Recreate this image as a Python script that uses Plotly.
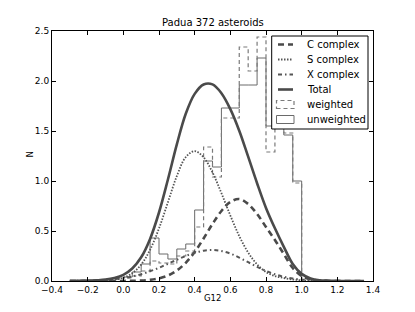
import plotly.graph_objects as go

# ---------------- data ----------------
bin_edges = [0.00, 0.05, 0.10, 0.15, 0.20, 0.25, 0.30, 0.35, 0.40, 0.45, 0.50,
             0.55, 0.60, 0.65, 0.70, 0.75, 0.80, 0.85, 0.90, 0.95, 1.00]
unweighted = [0.04, 0.09, 0.17, 0.43, 0.27, 0.22, 0.32, 0.37, 0.71, 1.20,
              1.14, 1.73, 1.73, 1.96, 1.96, 2.23, 1.55, 1.55, 1.46, 1.00]
weighted = [0.03, 0.05, 0.10, 0.20, 0.18, 0.17, 0.25, 0.30, 0.54, 1.34,
            1.04, 1.63, 1.63, 2.34, 2.10, 2.44, 1.29, 1.55, 1.48, 0.98]

curve_x = [-0.30, -0.25, -0.20, -0.15, -0.10, -0.05, 0.00, 0.05, 0.10, 0.15,
           0.20, 0.25, 0.30, 0.35, 0.40, 0.45, 0.50, 0.55, 0.60, 0.65,
           0.70, 0.75, 0.80, 0.85, 0.90, 0.95, 1.00, 1.05, 1.10, 1.15,
           1.20, 1.25, 1.30, 1.35]
c_complex = [0.0, 0.0, 0.0, 0.0, 0.0, 0.0001, 0.0006, 0.0018, 0.0048, 0.012,
             0.027, 0.055, 0.105, 0.182, 0.29, 0.425, 0.57, 0.70, 0.79, 0.82,
             0.77, 0.67, 0.54, 0.41, 0.27, 0.13, 0.05, 0.016, 0.004, 0.001,
             0.0003, 0.0001, 0.0, 0.0]
s_complex = [0.0, 0.0001, 0.0003, 0.0011, 0.0038, 0.0117, 0.032, 0.077, 0.164, 0.312,
             0.526, 0.788, 1.049, 1.239, 1.299, 1.237, 1.086, 0.878, 0.655, 0.449,
             0.285, 0.166, 0.09, 0.05, 0.03, 0.015, 0.007, 0.003, 0.001, 0.0005,
             0.0002, 0.0001, 0.0, 0.0]
x_complex = [0.0007, 0.0015, 0.003, 0.006, 0.010, 0.018, 0.029, 0.046, 0.068, 0.097,
             0.132, 0.172, 0.212, 0.251, 0.282, 0.303, 0.310, 0.300, 0.274, 0.234,
             0.188, 0.142, 0.101, 0.067, 0.042, 0.025, 0.014, 0.007, 0.0034, 0.0015,
             0.0005, 0.0002, 0.0001, 0.0]
total = [0.0008, 0.0016, 0.0033, 0.0071, 0.0138, 0.030, 0.062, 0.125, 0.237, 0.421,
         0.685, 1.015, 1.366, 1.672, 1.871, 1.965, 1.966, 1.878, 1.719, 1.503,
         1.243, 0.978, 0.731, 0.527, 0.342, 0.170, 0.071, 0.026, 0.008, 0.003,
         0.001, 0.0003, 0.0001, 0.0]

x_ticks = [-0.4, -0.2, 0.0, 0.2, 0.4, 0.6, 0.8, 1.0, 1.2, 1.4]
x_tick_labels = ["\u22120.4", "\u22120.2", "0.0", "0.2", "0.4", "0.6", "0.8", "1.0", "1.2", "1.4"]
y_ticks = [0.0, 0.5, 1.0, 1.5, 2.0, 2.5]
y_tick_labels = ["0.0", "0.5", "1.0", "1.5", "2.0", "2.5"]

legend_labels = ["C complex", "S complex", "X complex", "Total", "weighted", "unweighted"]

# ---------------- figure ----------------
OFF = 8  # default page body margin offsets the figure by 8px
W, H = 415 - OFF, 312 - OFF
L, T = 52 - OFF, 31 - OFF
PW, PH = 321, 250
R, B = W - L - PW, H - T - PH
FONT = "DejaVu Sans"


def step_xy(edges, vals):
    xs = [edges[0]] + list(edges) + [edges[-1]]
    ys = [0] + list(vals) + [vals[-1], 0]
    return xs, ys


fig = go.Figure()

ux, uy = step_xy(bin_edges, unweighted)
wx, wy = step_xy(bin_edges, weighted)

fig.add_trace(go.Scatter(x=ux, y=uy, mode="lines", line_shape="hv",
                         line=dict(color="#6a6a6a", width=1), showlegend=False,
                         name="unweighted"))
fig.add_trace(go.Scatter(x=wx, y=wy, mode="lines", line_shape="hv",
                         line=dict(color="#7a7a7a", width=1.2, dash="4px,3px"),
                         showlegend=False, name="weighted"))

fig.add_trace(go.Scatter(x=curve_x, y=c_complex, mode="lines", line_shape="spline",
                         line=dict(color="#4a4a4a", width=2.6, dash="6px,4px"),
                         showlegend=False, name="C complex"))
fig.add_trace(go.Scatter(x=curve_x, y=s_complex, mode="lines", line_shape="spline",
                         line=dict(color="#555555", width=1.8, dash="1.5px,1.5px"),
                         showlegend=False, name="S complex"))
fig.add_trace(go.Scatter(x=curve_x, y=x_complex, mode="lines", line_shape="spline",
                         line=dict(color="#555555", width=2, dash="4px,3px,1.5px,3px"),
                         showlegend=False, name="X complex"))
fig.add_trace(go.Scatter(x=curve_x, y=total, mode="lines", line_shape="spline",
                         line=dict(color="#4a4a4a", width=2.6),
                         showlegend=False, name="Total"))

axis_common = dict(showline=True, linecolor="black", linewidth=1, mirror="allticks",
                   ticks="inside", ticklen=4, tickcolor="black", showgrid=False,
                   zeroline=False, tickfont=dict(family=FONT, size=9, color="black"))
fig.update_xaxes(range=[-0.4, 1.4], tickvals=x_ticks, ticktext=x_tick_labels, **axis_common)
fig.update_yaxes(range=[0, 2.5], tickvals=y_ticks, ticktext=y_tick_labels, **axis_common)


def px(xp):
    return (xp - 52) / PW


def py(yp):
    return (281 - yp) / PH


shapes = []
annotations = []

# legend box
shapes.append(dict(type="rect", xref="paper", yref="paper",
                   x0=px(271.7), x1=px(368), y0=py(129), y1=py(36),
                   line=dict(color="black", width=1), fillcolor="white", layer="above"))
row_y = [44.5, 59.5, 74.5, 89.5, 104.5, 119.5]
line_styles = [
    dict(color="#4a4a4a", width=2.6, dash="6px,4px"),
    dict(color="#555555", width=1.8, dash="1.5px,1.5px"),
    dict(color="#555555", width=2, dash="4px,3px,1.5px,3px"),
    dict(color="#4a4a4a", width=2.6),
]
for i, st in enumerate(line_styles):
    shapes.append(dict(type="line", xref="paper", yref="paper",
                       x0=px(278), x1=px(293), y0=py(row_y[i]), y1=py(row_y[i]),
                       line=st, layer="above"))
shapes.append(dict(type="rect", xref="paper", yref="paper",
                   x0=px(276.5), x1=px(294), y0=py(row_y[4] + 4), y1=py(row_y[4] - 4),
                   line=dict(color="#7a7a7a", width=1.2, dash="4px,3px"),
                   fillcolor="white", layer="above"))
shapes.append(dict(type="rect", xref="paper", yref="paper",
                   x0=px(276.5), x1=px(294), y0=py(row_y[5] + 4), y1=py(row_y[5] - 4),
                   line=dict(color="#6a6a6a", width=1),
                   fillcolor="white", layer="above"))
for i, lab in enumerate(legend_labels):
    annotations.append(dict(text=lab, xref="paper", yref="paper", x=px(305), y=py(row_y[i]),
                            xanchor="left", yanchor="middle", showarrow=False,
                            font=dict(family=FONT, size=10, color="black")))

# title and axis labels
annotations.append(dict(text="Padua 372 asteroids", xref="paper", yref="paper",
                        x=0.5, y=py(23), xanchor="center", yanchor="middle", showarrow=False,
                        font=dict(family=FONT, size=10, color="black")))
annotations.append(dict(text="G12", xref="paper", yref="paper",
                        x=0.5, y=py(298), xanchor="center", yanchor="middle", showarrow=False,
                        font=dict(family=FONT, size=8.5, color="black")))
annotations.append(dict(text="N", xref="paper", yref="paper",
                        x=px(29.5), y=py(155), xanchor="center", yanchor="middle",
                        showarrow=False, textangle=-90,
                        font=dict(family=FONT, size=8.5, color="black")))

fig.update_layout(width=W, height=H, margin=dict(l=L, r=R, t=T, b=B),
                  paper_bgcolor="white", plot_bgcolor="white",
                  shapes=shapes, annotations=annotations, showlegend=False,
                  font=dict(family=FONT))

fig.write_html("out.html")
